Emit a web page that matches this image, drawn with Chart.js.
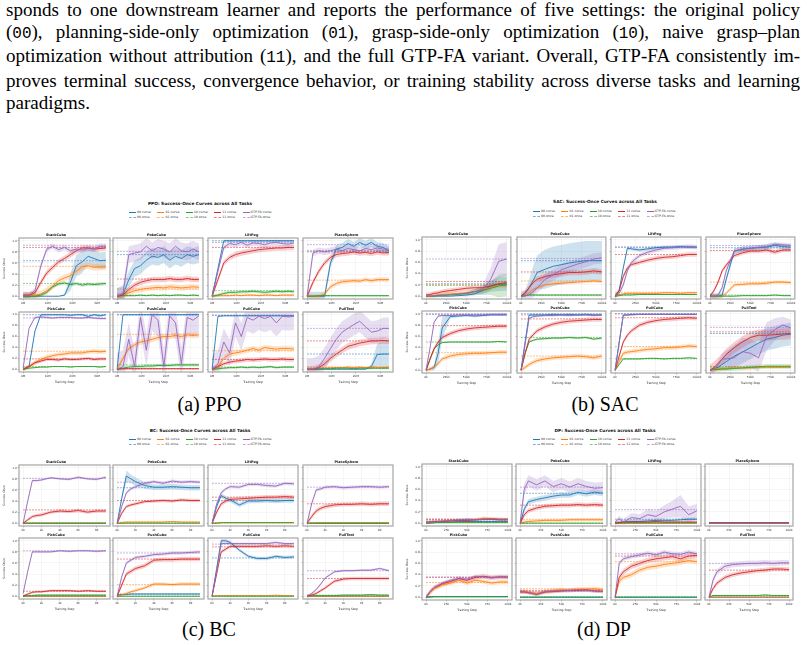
<!DOCTYPE html>
<html lang="en">
<head>
<meta charset="UTF-8" />
<title>Success-Once Curves across All Tasks</title>
<script src="https://cdn.jsdelivr.net/npm/chart.js"></script>
<style>
  html, body { margin: 0; padding: 0; background: #fff; }
  body { width: 807px; height: 645px; position: relative; overflow: hidden; font-family: "Liberation Serif", "Times New Roman", serif; color: #000; }
  .para { position: absolute; left: 6px; top: -1px; width: 794px; font-family: "Liberation Serif", serif; font-size: 19px; line-height: 22.2px; }
  .ln { text-align: justify; text-align-last: justify; }
  .ln.last { text-align: left; text-align-last: left; }
  code { font-family: "Liberation Mono", "DejaVu Sans Mono", monospace; font-size: 16px; }
  .caption { position: absolute; font-family: "Liberation Serif", serif; font-size: 20px; line-height: 22px; transform: translateX(-50%); white-space: nowrap; }
  .suptitle { position: absolute; font-family: "DejaVu Sans", sans-serif; font-weight: bold; font-size: 4.3px; line-height: 1; transform: translate(-50%, -50%); white-space: nowrap; color: #111; }
  .leg { position: absolute; font-family: "DejaVu Sans", sans-serif; font-size: 3.2px; line-height: 4px; white-space: nowrap; color: #333; }
  .leg i { display: inline-block; width: 7px; height: 0; vertical-align: middle; margin-right: 1px; }
  canvas { position: absolute; }
</style>
</head>
<body>
  <div class="para">
    <div class="ln">sponds to one downstream learner and reports the performance of five settings: the original policy</div>
    <div class="ln">(<code>00</code>), planning-side-only optimization (<code>01</code>), grasp-side-only optimization (<code>10</code>), naive grasp–plan</div>
    <div class="ln">optimization without attribution (<code>11</code>), and the full GTP-FA variant. Overall, GTP-FA consistently im-</div>
    <div class="ln">proves terminal success, convergence behavior, or training stability across diverse tasks and learning</div>
    <div class="ln last">paradigms.</div>
  </div>

  <div class="caption" style="left:209.5px; top:393px;">(a) PPO</div>
  <div class="caption" style="left:605px; top:393px;">(b) SAC</div>
  <div class="caption" style="left:209px; top:618px;">(c) BC</div>
  <div class="caption" style="left:604px; top:618px;">(d) DP</div>

<script>
// settings in plot order: 00, 01, 10, 11, GTP-FA
const SETTINGS = ["00", "01", "10", "11", "GTP-FA"];
const TASKS = ["StackCube", "PokeCube", "LiftPeg", "PlaceSphere", "PickCube", "PushCube", "PullCube", "PullTool"];
const Y_TICKS = [0, 0.2, 0.4, 0.6, 0.8, 1.0];

// ---------------- PPO (steps in M) ----------------
const PPO_STEPS = [0, 2.4, 4.8, 7.2, 9.6, 12, 14.4, 16.8, 19.2, 21.6, 24, 26.4, 28.8, 31.2, 33.6];
const PPO_XTICKS = [0, 10, 20, 30];
const PPO_XLABELS = ["0M", "10M", "20M", "30M"];

const ppoStackCube = [
  [0, 0, 0, 0, 0, 0, 0, 0.02, 0.25, 0.55, 0.62, 0.72, 0.68, 0.64, 0.65],
  [0.02, 0.02, 0.02, 0.04, 0.1, 0.18, 0.28, 0.33, 0.37, 0.45, 0.53, 0.55, 0.52, 0.53, 0.53],
  [0, 0, 0, 0.02, 0.07, 0.17, 0.22, 0.24, 0.21, 0.23, 0.2, 0.22, 0.21, 0.22, 0.23],
  [0.02, 0.02, 0.06, 0.25, 0.42, 0.52, 0.62, 0.68, 0.75, 0.82, 0.87, 0.87, 0.85, 0.86, 0.87],
  [0.02, 0.02, 0.1, 0.55, 0.85, 0.9, 0.84, 0.88, 0.82, 0.85, 0.83, 0.87, 0.85, 0.9, 0.9]
];
const ppoStackCubeOnce = [0.64, 0.54, 0.23, 0.88, 0.92];
const ppoStackCubeBand = [[0, 0, 0, 0, 0, 0, 0, 0.02, 0.15, 0.2, 0.2, 0.15, 0.15, 0.15, 0.15], 0.06, 0.03, 0.05, 0.05];

const ppoPokeCube = [
  [0, 0.02, 0.3, 0.5, 0.55, 0.65, 0.72, 0.7, 0.75, 0.65, 0.72, 0.68, 0.75, 0.72, 0.75],
  [0, 0.02, 0.06, 0.1, 0.12, 0.14, 0.15, 0.16, 0.15, 0.17, 0.16, 0.15, 0.16, 0.17, 0.16],
  [0, 0.01, 0.01, 0.01, 0.02, 0.01, 0.02, 0.01, 0.02, 0.01, 0.02, 0.02, 0.01, 0.02, 0.01],
  [0, 0.02, 0.12, 0.2, 0.25, 0.28, 0.3, 0.3, 0.3, 0.32, 0.3, 0.3, 0.32, 0.3, 0.3],
  [0, 0.05, 0.75, 0.78, 0.8, 0.9, 0.82, 0.88, 0.85, 0.8, 0.9, 0.82, 0.8, 0.85, 0.8]
];
const ppoPokeCubeOnce = [0.75, 0.13, 0.02, 0.31, 0.81];
const ppoPokeCubeBand = [0.15, 0.05, 0.01, 0.05, 0.15];

const ppoLiftPeg = [
  [0, 0.5, 1.0, 1.0, 1.0, 1.0, 1.0, 1.0, 1.0, 1.0, 1.0, 1.0, 1.0, 1.0, 1.0],
  [0, 0.01, 0.01, 0.01, 0.02, 0.01, 0.02, 0.02, 0.01, 0.02, 0.02, 0.01, 0.02, 0.02, 0.02],
  [0, 0.02, 0.05, 0.07, 0.07, 0.08, 0.08, 0.09, 0.08, 0.07, 0.08, 0.09, 0.08, 0.09, 0.08],
  [0, 0.3, 0.6, 0.7, 0.75, 0.78, 0.8, 0.82, 0.84, 0.85, 0.86, 0.87, 0.87, 0.88, 0.88],
  [0, 0.45, 0.88, 0.95, 0.93, 0.97, 0.92, 0.96, 0.95, 0.93, 0.96, 0.97, 0.95, 0.94, 0.96]
];
const ppoLiftPegOnce = [1.0, 0.02, 0.1, 0.88, 0.97];
const ppoLiftPegBand = [0.02, 0.01, 0.03, 0.05, 0.05];

const ppoPlaceSphere = [
  [0, 0, 0, 0, 0.6, 0.85, 0.88, 0.95, 0.9, 0.97, 0.92, 0.97, 0.9, 0.88, 0.82],
  [0, 0, 0, 0.04, 0.17, 0.23, 0.26, 0.27, 0.28, 0.27, 0.3, 0.28, 0.3, 0.3, 0.3],
  [0, 0, 0.01, 0.01, 0.01, 0.01, 0.01, 0.01, 0.01, 0.01, 0.01, 0.01, 0.01, 0.01, 0.01],
  [0, 0.25, 0.45, 0.6, 0.7, 0.75, 0.77, 0.78, 0.8, 0.78, 0.79, 0.77, 0.8, 0.78, 0.79],
  [0, 0.78, 0.82, 0.8, 0.82, 0.85, 0.82, 0.86, 0.84, 0.82, 0.86, 0.84, 0.87, 0.85, 0.85]
];
const ppoPlaceSphereOnce = [0.82, 0.29, 0.01, 0.8, 0.93];
const ppoPlaceSphereBand = [0.08, 0.04, 0.01, 0.05, 0.06];

const ppoPickCube = [
  [0, 0.05, 0.7, 1.0, 1.0, 1.0, 1.0, 1.0, 0.99, 1.0, 1.0, 0.97, 1.0, 0.98, 1.0],
  [0, 0.05, 0.12, 0.18, 0.22, 0.25, 0.27, 0.28, 0.3, 0.3, 0.3, 0.32, 0.33, 0.32, 0.33],
  [0, 0.02, 0.03, 0.04, 0.04, 0.05, 0.05, 0.05, 0.04, 0.05, 0.05, 0.05, 0.05, 0.04, 0.05],
  [0, 0.05, 0.12, 0.15, 0.18, 0.18, 0.17, 0.19, 0.18, 0.18, 0.19, 0.2, 0.18, 0.19, 0.19],
  [0.02, 0.75, 0.95, 0.96, 0.95, 0.94, 0.95, 0.95, 0.95, 0.94, 0.94, 0.95, 0.94, 0.93, 0.93]
];
const ppoPickCubeOnce = [1.0, 0.33, 0.05, 0.19, 0.94];
const ppoPickCubeBand = [0.02, 0.04, 0.01, 0.03, 0.02];

const ppoPushCube = [
  [0, 1.0, 1.0, 1.0, 1.0, 1.0, 1.0, 1.0, 1.0, 1.0, 1.0, 1.0, 1.0, 1.0, 1.0],
  [0, 0.2, 0.38, 0.45, 0.5, 0.52, 0.55, 0.58, 0.6, 0.6, 0.62, 0.6, 0.63, 0.62, 0.63],
  [0, 0.02, 0.04, 0.05, 0.05, 0.06, 0.06, 0.07, 0.07, 0.07, 0.08, 0.08, 0.08, 0.08, 0.08],
  [0, 0.01, 0.01, 0.01, 0.01, 0.01, 0.01, 0.01, 0.01, 0.01, 0.01, 0.01, 0.01, 0.01, 0.01],
  [0, 0.05, 0.55, 0.05, 0.95, 0.35, 1.0, 0.9, 0.05, 0.98, 0.85, 0.1, 0.95, 0.9, 0.98]
];
const ppoPushCubeOnce = [1.0, 0.64, 0.08, 0.01, 1.0];
const ppoPushCubeBand = [0.01, 0.05, 0.03, 0.01, 0.3];

const ppoPullCube = [
  [0, 0.97, 0.98, 0.98, 0.98, 0.98, 0.98, 0.98, 0.98, 0.98, 0.98, 0.98, 0.98, 0.98, 0.98],
  [0, 0.05, 0.2, 0.28, 0.3, 0.32, 0.35, 0.38, 0.35, 0.4, 0.38, 0.37, 0.38, 0.38, 0.37],
  [0, 0.01, 0.02, 0.03, 0.03, 0.04, 0.03, 0.04, 0.03, 0.04, 0.05, 0.03, 0.04, 0.04, 0.04],
  [0, 0.05, 0.1, 0.13, 0.15, 0.16, 0.18, 0.17, 0.18, 0.19, 0.18, 0.18, 0.19, 0.18, 0.18],
  [0, 0.1, 0.5, 0.3, 0.85, 0.6, 0.95, 0.9, 0.97, 0.93, 0.97, 0.85, 0.97, 0.96, 0.97]
];
const ppoPullCubeOnce = [0.99, 0.34, 0.04, 0.18, 0.99];
const ppoPullCubeBand = [0.01, 0.05, 0.02, 0.04, 0.25];

const ppoPullTool = [
  [0, 0, 0, 0, 0, 0, 0, 0, 0, 0, 0, 0.05, 0.27, 0.28, 0.28],
  [0, 0.01, 0.02, 0.02, 0.03, 0.03, 0.03, 0.04, 0.03, 0.04, 0.03, 0.04, 0.04, 0.03, 0.04],
  [0, 0, 0.01, 0.01, 0.01, 0.02, 0.02, 0.02, 0.01, 0.02, 0.02, 0.02, 0.02, 0.02, 0.02],
  [0, 0, 0.03, 0.1, 0.2, 0.28, 0.35, 0.42, 0.45, 0.48, 0.5, 0.52, 0.52, 0.53, 0.52],
  [0, 0, 0.05, 0.2, 0.38, 0.55, 0.68, 0.75, 0.82, 0.88, 0.78, 0.68, 0.7, 0.75, 0.75]
];
const ppoPullToolOnce = [0.28, 0.04, 0.02, 0.52, 0.75];
const ppoPullToolBand = [[0, 0, 0, 0, 0, 0, 0, 0, 0, 0, 0, 0.05, 0.2, 0.25, 0.25], 0.02, 0.01, 0.06, 0.2];

// ---------------- SAC (steps in k) ----------------
const SAC_STEPS = [0, 50, 100, 150, 200, 300, 400, 500, 600, 700, 800, 900, 1000];
const SAC_XTICKS = [0, 250, 500, 750, 1000];
const SAC_XLABELS = ["0k", "250k", "500k", "750k", "1000k"];

const sacStackCube = [
  [0, 0, 0, 0, 0, 0, 0.01, 0.02, 0.04, 0.1, 0.18, 0.21, 0.22],
  [0, 0, 0.01, 0.02, 0.03, 0.04, 0.05, 0.06, 0.08, 0.12, 0.15, 0.19, 0.18],
  [0, 0, 0, 0.01, 0.01, 0.02, 0.03, 0.05, 0.08, 0.1, 0.14, 0.18, 0.2],
  [0.02, 0.03, 0.05, 0.06, 0.08, 0.1, 0.12, 0.14, 0.15, 0.15, 0.18, 0.22, 0.24],
  [0, 0, 0.01, 0.02, 0.02, 0.03, 0.04, 0.05, 0.08, 0.12, 0.3, 0.62, 0.66]
];
const sacStackCubeOnce = [0.22, 0.19, 0.2, 0.26, 0.66];
const sacStackCubeBand = [
  [0, 0, 0, 0, 0, 0, 0.01, 0.02, 0.03, 0.06, 0.1, 0.12, 0.12], 0.04,
  [0, 0, 0, 0, 0.01, 0.01, 0.02, 0.03, 0.05, 0.08, 0.12, 0.2, 0.2], 0.04,
  [0, 0, 0, 0, 0, 0, 0, 0.02, 0.04, 0.08, 0.2, 0.3, 0.3]
];

const sacPokeCube = [
  [0, 0.05, 0.15, 0.28, 0.42, 0.48, 0.53, 0.56, 0.59, 0.61, 0.63, 0.63, 0.63],
  [0, 0.02, 0.06, 0.12, 0.15, 0.2, 0.22, 0.23, 0.24, 0.25, 0.26, 0.27, 0.26],
  [0, 0.01, 0.02, 0.02, 0.02, 0.02, 0.02, 0.02, 0.02, 0.02, 0.02, 0.02, 0.02],
  [0, 0.06, 0.15, 0.24, 0.3, 0.35, 0.38, 0.4, 0.42, 0.42, 0.43, 0.45, 0.43],
  [0, 0, 0.03, 0.08, 0.15, 0.3, 0.38, 0.47, 0.52, 0.57, 0.61, 0.66, 0.68]
];
const sacPokeCubeOnce = [0.63, 0.27, 0.02, 0.43, 0.67];
const sacPokeCubeBand = [[0, 0.05, 0.15, 0.25, 0.3, 0.35, 0.35, 0.35, 0.35, 0.35, 0.35, 0.35, 0.35], 0.03, 0.01, 0.05, 0.1];

const sacLiftPeg = [
  [0, 0.1, 0.5, 0.85, 0.84, 0.82, 0.84, 0.86, 0.87, 0.87, 0.88, 0.87, 0.87],
  [0, 0.02, 0.04, 0.05, 0.05, 0.05, 0.05, 0.05, 0.06, 0.06, 0.05, 0.06, 0.06],
  [0, 0.01, 0.02, 0.02, 0.02, 0.03, 0.03, 0.03, 0.03, 0.03, 0.03, 0.03, 0.03],
  [0, 0.1, 0.35, 0.5, 0.56, 0.6, 0.64, 0.67, 0.69, 0.7, 0.72, 0.74, 0.74],
  [0, 0.05, 0.2, 0.45, 0.6, 0.72, 0.78, 0.82, 0.85, 0.86, 0.87, 0.88, 0.87]
];
const sacLiftPegOnce = [0.87, 0.07, 0.03, 0.74, 0.87];
const sacLiftPegBand = [0.03, 0.02, 0.01, 0.04, 0.04];

const sacPlaceSphere = [
  [0, 0, 0, 0.02, 0.3, 0.8, 0.83, 0.85, 0.86, 0.87, 0.9, 0.88, 0.87],
  [0, 0, 0, 0, 0.05, 0.2, 0.21, 0.22, 0.22, 0.23, 0.25, 0.25, 0.24],
  [0, 0, 0, 0, 0, 0, 0.01, 0.01, 0.01, 0.01, 0.02, 0.01, 0.01],
  [0, 0.1, 0.25, 0.45, 0.55, 0.72, 0.77, 0.8, 0.8, 0.82, 0.78, 0.82, 0.82],
  [0, 0, 0.02, 0.15, 0.45, 0.8, 0.84, 0.85, 0.87, 0.88, 0.92, 0.91, 0.9]
];
const sacPlaceSphereOnce = [0.86, 0.25, 0.02, 0.81, 0.9];
const sacPlaceSphereBand = [0.05, 0.03, 0.01, 0.04, 0.04];

const sacPickCube = [
  [0, 0.02, 0.05, 0.3, 0.75, 0.95, 0.96, 0.97, 0.96, 0.97, 0.98, 0.98, 0.98],
  [0, 0.02, 0.05, 0.12, 0.2, 0.25, 0.28, 0.29, 0.3, 0.3, 0.31, 0.32, 0.32],
  [0, 0.2, 0.38, 0.45, 0.49, 0.5, 0.5, 0.5, 0.5, 0.5, 0.5, 0.51, 0.5],
  [0, 0.2, 0.38, 0.5, 0.58, 0.65, 0.7, 0.73, 0.75, 0.76, 0.77, 0.78, 0.78],
  [0, 0.4, 0.85, 0.96, 0.97, 0.97, 0.98, 0.98, 0.98, 0.98, 0.99, 0.99, 0.99]
];
const sacPickCubeOnce = [0.99, 0.31, 0.5, 0.79, 1.0];
const sacPickCubeBand = [[0, 0.02, 0.05, 0.2, 0.2, 0.03, 0.02, 0.02, 0.02, 0.02, 0.02, 0.02, 0.02], 0.04, 0.01, 0.04, 0.02];

const sacPushCube = [
  [0, 0.5, 0.98, 0.98, 0.98, 0.98, 0.99, 0.98, 0.99, 0.98, 0.99, 0.98, 0.98],
  [0, 0.05, 0.1, 0.14, 0.17, 0.2, 0.22, 0.23, 0.24, 0.25, 0.24, 0.22, 0.25],
  [0, 0.3, 0.5, 0.53, 0.55, 0.56, 0.57, 0.57, 0.58, 0.57, 0.58, 0.55, 0.57],
  [0, 0.3, 0.55, 0.63, 0.7, 0.77, 0.82, 0.85, 0.87, 0.88, 0.89, 0.9, 0.9],
  [0, 0.45, 0.92, 0.95, 0.96, 0.97, 0.97, 0.98, 0.97, 0.98, 0.98, 0.97, 0.98]
];
const sacPushCubeOnce = [1.0, 0.25, 0.58, 0.91, 0.98];
const sacPushCubeBand = [0.02, 0.04, 0.02, 0.04, 0.02];

const sacPullCube = [
  [0, 0.5, 0.98, 0.98, 0.99, 0.99, 0.99, 0.99, 0.99, 0.99, 0.99, 0.99, 0.99],
  [0, 0.15, 0.3, 0.32, 0.33, 0.35, 0.37, 0.38, 0.4, 0.4, 0.41, 0.43, 0.42],
  [0, 0.1, 0.2, 0.2, 0.2, 0.2, 0.21, 0.21, 0.2, 0.21, 0.21, 0.22, 0.21],
  [0, 0.25, 0.5, 0.62, 0.7, 0.8, 0.85, 0.88, 0.9, 0.91, 0.92, 0.93, 0.92],
  [0, 0.48, 0.97, 0.98, 0.98, 0.99, 0.99, 0.99, 0.99, 0.99, 0.99, 0.99, 0.99]
];
const sacPullCubeOnce = [1.0, 0.42, 0.2, 0.93, 1.0];
const sacPullCubeBand = [0.01, 0.04, 0.01, 0.04, 0.01];

const sacPullTool = [
  [0, 0.02, 0.05, 0.1, 0.15, 0.25, 0.32, 0.4, 0.48, 0.55, 0.58, 0.62, 0.64],
  [0, 0.02, 0.03, 0.03, 0.03, 0.04, 0.04, 0.04, 0.05, 0.05, 0.05, 0.05, 0.05],
  [0, 0.01, 0.01, 0.02, 0.02, 0.03, 0.04, 0.05, 0.06, 0.07, 0.07, 0.07, 0.07],
  [0, 0.05, 0.12, 0.2, 0.28, 0.4, 0.5, 0.58, 0.62, 0.62, 0.63, 0.64, 0.65],
  [0, 0.02, 0.1, 0.2, 0.2, 0.22, 0.33, 0.3, 0.22, 0.6, 0.72, 0.8, 0.75]
];
const sacPullToolOnce = [0.65, 0.06, 0.06, 0.68, 0.76];
const sacPullToolBand = [
  [0, 0.02, 0.05, 0.1, 0.15, 0.2, 0.2, 0.2, 0.2, 0.2, 0.2, 0.2, 0.2], 0.02, 0.04, 0.1,
  [0, 0.02, 0.05, 0.1, 0.15, 0.2, 0.25, 0.25, 0.25, 0.25, 0.2, 0.15, 0.15]
];

// ---------------- BC (steps in k) ----------------
const BC_STEPS = [0, 0.5, 1, 1.5, 2, 3, 4, 5, 6, 7, 8, 9];
const BC_XTICKS = [0, 2, 4, 6, 8];
const BC_XLABELS = ["0k", "2k", "4k", "6k", "8k"];

const bcStackCube = [
  [0, 0, 0, 0, 0, 0, 0, 0, 0, 0, 0, 0],
  [0, 0, 0, 0, 0, 0, 0, 0, 0, 0, 0, 0],
  [0, 0, 0, 0, 0, 0, 0, 0, 0, 0, 0, 0],
  [0, 0.06, 0.12, 0.14, 0.15, 0.2, 0.22, 0.21, 0.23, 0.2, 0.22, 0.22],
  [0, 0.4, 0.77, 0.77, 0.78, 0.82, 0.8, 0.79, 0.83, 0.8, 0.79, 0.83]
];
const bcStackCubeOnce = [0, 0, 0, 0.24, 0.81];
const bcStackCubeBand = [0, 0, 0, 0.03, 0.02];

const bcPokeCube = [
  [0, 0.45, 0.85, 0.8, 0.75, 0.68, 0.65, 0.65, 0.66, 0.65, 0.64, 0.64],
  [0, 0.01, 0.02, 0.02, 0.02, 0.02, 0.02, 0.02, 0.03, 0.02, 0.02, 0.02],
  [0, 0, 0, 0, 0, 0, 0, 0, 0, 0, 0, 0],
  [0, 0.18, 0.3, 0.33, 0.35, 0.39, 0.4, 0.41, 0.4, 0.42, 0.41, 0.41],
  [0, 0.3, 0.55, 0.62, 0.66, 0.72, 0.75, 0.72, 0.76, 0.74, 0.75, 0.74]
];
const bcPokeCubeOnce = [0.64, 0.02, 0, 0.41, 0.74];
const bcPokeCubeBand = [[0, 0.05, 0.1, 0.08, 0.08, 0.06, 0.05, 0.05, 0.05, 0.05, 0.05, 0.05], 0.01, 0, 0.03, 0.03];

const bcLiftPeg = [
  [0, 0.3, 0.5, 0.45, 0.42, 0.33, 0.4, 0.4, 0.41, 0.4, 0.41, 0.41],
  [0, 0, 0.01, 0.01, 0.01, 0.01, 0.01, 0.01, 0.01, 0.01, 0.01, 0.01],
  [0, 0, 0.01, 0.01, 0.01, 0.01, 0.01, 0.01, 0.01, 0.01, 0.01, 0.01],
  [0, 0.2, 0.35, 0.4, 0.43, 0.44, 0.45, 0.46, 0.47, 0.47, 0.48, 0.47],
  [0, 0.35, 0.55, 0.62, 0.66, 0.65, 0.7, 0.7, 0.68, 0.67, 0.72, 0.71]
];
const bcLiftPegOnce = [0.41, 0.01, 0.01, 0.47, 0.72];
const bcLiftPegBand = [0.04, 0, 0, 0.04, 0.03];

const bcPlaceSphere = [
  [0, 0, 0, 0, 0, 0, 0, 0, 0, 0, 0, 0],
  [0, 0, 0.01, 0.01, 0.01, 0.01, 0.01, 0.01, 0.01, 0.01, 0.01, 0.01],
  [0, 0, 0, 0, 0, 0, 0, 0, 0, 0, 0, 0],
  [0, 0.12, 0.22, 0.27, 0.3, 0.33, 0.34, 0.34, 0.35, 0.34, 0.35, 0.35],
  [0, 0.35, 0.6, 0.62, 0.65, 0.66, 0.64, 0.65, 0.66, 0.66, 0.65, 0.66]
];
const bcPlaceSphereOnce = [0, 0.01, 0, 0.35, 0.65];
const bcPlaceSphereBand = [0, 0, 0, 0.04, 0.03];

const bcPickCube = [
  [0, 0, 0, 0, 0, 0, 0, 0, 0, 0, 0, 0],
  [0, 0, 0, 0, 0, 0, 0, 0, 0, 0, 0, 0],
  [0, 0.01, 0.01, 0.02, 0.02, 0.02, 0.02, 0.02, 0.02, 0.02, 0.02, 0.02],
  [0, 0.04, 0.07, 0.08, 0.08, 0.1, 0.1, 0.1, 0.09, 0.1, 0.09, 0.09],
  [0.05, 0.45, 0.8, 0.8, 0.8, 0.8, 0.82, 0.81, 0.82, 0.82, 0.81, 0.82]
];
const bcPickCubeOnce = [0, 0, 0.02, 0.09, 0.82];
const bcPickCubeBand = [0, 0, 0.01, 0.02, 0.02];

const bcPushCube = [
  [0.02, 0.03, 0.03, 0.04, 0.04, 0.04, 0.04, 0.04, 0.04, 0.04, 0.04, 0.04],
  [0, 0.02, 0.05, 0.08, 0.1, 0.15, 0.22, 0.22, 0.21, 0.22, 0.22, 0.22],
  [0, 0, 0, 0, 0, 0, 0, 0, 0, 0, 0, 0],
  [0, 0.2, 0.4, 0.45, 0.5, 0.55, 0.65, 0.66, 0.66, 0.67, 0.67, 0.67],
  [0, 0.35, 0.6, 0.65, 0.7, 0.72, 0.75, 0.76, 0.78, 0.78, 0.79, 0.8]
];
const bcPushCubeOnce = [0.04, 0.21, 0, 0.67, 0.78];
const bcPushCubeBand = [0.01, 0.03, 0, 0.04, 0.03];

const bcPullCube = [
  [0, 0.5, 1.0, 1.0, 0.97, 0.83, 0.72, 0.68, 0.68, 0.72, 0.7, 0.71],
  [0, 0.01, 0.01, 0.01, 0.01, 0.01, 0.01, 0.01, 0.01, 0.02, 0.01, 0.01],
  [0, 0, 0, 0, 0, 0, 0, 0, 0, 0, 0, 0],
  [0, 0.4, 0.8, 0.85, 0.9, 0.9, 0.9, 0.9, 0.91, 0.9, 0.91, 0.9],
  [0, 0.45, 0.95, 0.95, 0.95, 0.95, 0.95, 0.95, 0.95, 0.97, 0.95, 0.95]
];
const bcPullCubeOnce = [0.69, 0.01, 0, 0.89, 0.94];
const bcPullCubeBand = [0.03, 0, 0, 0.03, 0.02];

const bcPullTool = [
  [0, 0, 0, 0, 0, 0, 0, 0, 0, 0, 0, 0],
  [0, 0, 0, 0, 0, 0, 0, 0, 0, 0, 0, 0],
  [0, 0.01, 0.01, 0.01, 0.01, 0.01, 0.02, 0.02, 0.02, 0.03, 0.02, 0.02],
  [0, 0.02, 0.05, 0.1, 0.15, 0.27, 0.31, 0.32, 0.32, 0.32, 0.32, 0.32],
  [0, 0.05, 0.12, 0.22, 0.33, 0.44, 0.46, 0.46, 0.47, 0.47, 0.5, 0.46]
];
const bcPullToolOnce = [0, 0, 0.02, 0.32, 0.46];
const bcPullToolBand = [0, 0, 0.01, 0.03, 0.02];

// ---------------- DP (steps in k) ----------------
const DP_STEPS = [0, 5, 10, 20, 30, 40, 50, 60, 70, 80, 90, 100];
const DP_XTICKS = [0, 25, 50, 75, 100];
const DP_XLABELS = ["0k", "25k", "50k", "75k", "100k"];

const dpStackCube = [
  [0, 0.01, 0.01, 0.02, 0.02, 0.03, 0.03, 0.03, 0.03, 0.03, 0.03, 0.03],
  [0.01, 0.02, 0.02, 0.03, 0.04, 0.05, 0.05, 0.06, 0.09, 0.08, 0.07, 0.07],
  [0, 0, 0.01, 0.01, 0.01, 0.01, 0.01, 0.01, 0.01, 0.01, 0.01, 0.01],
  [0.02, 0.02, 0.03, 0.03, 0.04, 0.05, 0.05, 0.06, 0.07, 0.07, 0.06, 0.06],
  [0.01, 0.02, 0.02, 0.04, 0.05, 0.06, 0.07, 0.06, 0.07, 0.08, 0.07, 0.07]
];
const dpStackCubeOnce = [0.04, 0.07, 0.01, 0.07, 0.07];
const dpStackCubeBand = [0.01, 0.03, 0.01, 0.02, 0.02];

const dpPokeCube = [
  [0, 0.25, 0.38, 0.42, 0.45, 0.48, 0.5, 0.5, 0.55, 0.52, 0.55, 0.53],
  [0, 0.02, 0.03, 0.04, 0.05, 0.05, 0.05, 0.06, 0.06, 0.06, 0.06, 0.06],
  [0, 0, 0, 0, 0, 0, 0, 0, 0, 0, 0, 0],
  [0, 0.15, 0.22, 0.27, 0.3, 0.31, 0.32, 0.32, 0.33, 0.32, 0.33, 0.32],
  [0, 0.6, 0.75, 0.68, 0.75, 0.65, 0.7, 0.64, 0.7, 0.65, 0.62, 0.63]
];
const dpPokeCubeOnce = [0.53, 0.07, 0, 0.32, 0.64];
const dpPokeCubeBand = [0.05, 0.03, 0, 0.04, 0.1];

const dpLiftPeg = [
  [0, 0.01, 0.02, 0.03, 0.03, 0.04, 0.05, 0.05, 0.05, 0.06, 0.07, 0.07],
  [0, 0, 0.01, 0.01, 0.01, 0.01, 0.01, 0.01, 0.01, 0.01, 0.01, 0.01],
  [0, 0, 0, 0, 0, 0, 0, 0, 0, 0, 0, 0],
  [0, 0.01, 0.02, 0.02, 0.02, 0.02, 0.03, 0.02, 0.02, 0.02, 0.02, 0.02],
  [0.02, 0.08, 0.02, 0.1, 0.08, 0.15, 0.12, 0.2, 0.25, 0.3, 0.15, 0.22]
];
const dpLiftPegOnce = [0.07, 0.01, 0, 0.02, 0.24];
const dpLiftPegBand = [0.03, 0.01, 0, 0.01, [0.02, 0.05, 0.05, 0.08, 0.08, 0.1, 0.1, 0.12, 0.15, 0.2, 0.15, 0.12]];

const dpPlaceSphere = [
  [0, 0, 0, 0, 0, 0, 0, 0, 0, 0, 0, 0],
  [0.01, 0.01, 0.01, 0.01, 0.01, 0.01, 0.01, 0.01, 0.01, 0.01, 0.01, 0.01],
  [0, 0, 0, 0, 0, 0, 0, 0, 0, 0, 0, 0],
  [0.01, 0.01, 0.01, 0.01, 0.01, 0.01, 0.01, 0.01, 0.01, 0.01, 0.01, 0.01],
  [0, 0, 0, 0, 0, 0, 0, 0, 0, 0, 0, 0]
];
const dpPlaceSphereOnce = [0, 0.01, 0, 0.01, 0];
const dpPlaceSphereBand = [0, 0.01, 0, 0.01, 0];

const dpPickCube = [
  [0, 0.01, 0.01, 0.01, 0.01, 0.01, 0.01, 0.01, 0.01, 0.01, 0.01, 0.01],
  [0, 0.08, 0.15, 0.22, 0.25, 0.3, 0.25, 0.3, 0.28, 0.25, 0.27, 0.27],
  [0, 0, 0.01, 0.01, 0.01, 0.01, 0.01, 0.01, 0.01, 0.01, 0.01, 0.01],
  [0, 0.1, 0.17, 0.24, 0.28, 0.33, 0.3, 0.35, 0.37, 0.35, 0.36, 0.36],
  [0, 0.1, 0.17, 0.25, 0.3, 0.33, 0.32, 0.37, 0.36, 0.34, 0.36, 0.35]
];
const dpPickCubeOnce = [0.01, 0.26, 0.01, 0.35, 0.36];
const dpPickCubeBand = [0.01, 0.04, 0.01, 0.04, 0.03];

const dpPushCube = [
  [0, 0, 0, 0, 0, 0, 0, 0, 0, 0, 0, 0],
  [0.1, 0.1, 0.09, 0.07, 0.1, 0.12, 0.13, 0.12, 0.14, 0.14, 0.15, 0.13],
  [0, 0, 0, 0, 0, 0, 0, 0, 0, 0, 0, 0],
  [0.09, 0.09, 0.08, 0.05, 0.09, 0.1, 0.11, 0.12, 0.12, 0.13, 0.11, 0.1],
  [0.1, 0.1, 0.08, 0.05, 0.1, 0.11, 0.12, 0.12, 0.13, 0.12, 0.11, 0.1]
];
const dpPushCubeOnce = [0, 0.15, 0, 0.12, 0.1];
const dpPushCubeBand = [0, 0.04, 0, 0.03, 0.03];

const dpPullCube = [
  [0, 0, 0, 0, 0, 0, 0, 0, 0, 0, 0, 0],
  [0, 0.28, 0.35, 0.4, 0.48, 0.53, 0.55, 0.58, 0.6, 0.62, 0.65, 0.63],
  [0, 0, 0, 0, 0, 0, 0, 0, 0, 0, 0, 0],
  [0, 0.35, 0.45, 0.55, 0.6, 0.65, 0.68, 0.7, 0.72, 0.68, 0.73, 0.74],
  [0, 0.6, 0.68, 0.72, 0.75, 0.78, 0.75, 0.8, 0.77, 0.76, 0.8, 0.77]
];
const dpPullCubeOnce = [0, 0.63, 0, 0.73, 0.77];
const dpPullCubeBand = [0, 0.05, 0, 0.05, 0.04];

const dpPullTool = [
  [0, 0, 0, 0, 0, 0, 0, 0, 0, 0, 0, 0],
  [0, 0, 0, 0, 0, 0, 0, 0, 0, 0, 0, 0],
  [0, 0.03, 0.03, 0.03, 0.03, 0.03, 0.03, 0.03, 0.04, 0.03, 0.03, 0.03],
  [0, 0.15, 0.25, 0.35, 0.4, 0.43, 0.45, 0.47, 0.48, 0.5, 0.5, 0.49],
  [0, 0.3, 0.45, 0.55, 0.58, 0.59, 0.6, 0.6, 0.61, 0.6, 0.61, 0.61]
];
const dpPullToolOnce = [0, 0, 0.03, 0.48, 0.6];
const dpPullToolBand = [0, 0, 0.01, 0.04, 0.05];

// ---------------- styles & layout ----------------
const COLORS = ["#1f77b4", "#ff7f0e", "#2ca02c", "#d62728", "#9467bd"];
const FONT = "DejaVu Sans";

const LEARNERS = [
  {
    name: "PPO", steps: PPO_STEPS, xticks: PPO_XTICKS, xlabels: PPO_XLABELS, xmin: -1.68, xmax: 35.28,
    curves: [ppoStackCube, ppoPokeCube, ppoLiftPeg, ppoPlaceSphere, ppoPickCube, ppoPushCube, ppoPullCube, ppoPullTool],
    once: [ppoStackCubeOnce, ppoPokeCubeOnce, ppoLiftPegOnce, ppoPlaceSphereOnce, ppoPickCubeOnce, ppoPushCubeOnce, ppoPullCubeOnce, ppoPullToolOnce],
    band: [ppoStackCubeBand, ppoPokeCubeBand, ppoLiftPegBand, ppoPlaceSphereBand, ppoPickCubeBand, ppoPushCubeBand, ppoPullCubeBand, ppoPullToolBand],
    cols: [[19, 110], [113, 203], [208, 298], [303, 393]], rows: [[238, 299], [312, 372]],
    title: [200, 204], legend: [129, 212]
  },
  {
    name: "SAC", steps: SAC_STEPS, xticks: SAC_XTICKS, xlabels: SAC_XLABELS, xmin: -50, xmax: 1050,
    curves: [sacStackCube, sacPokeCube, sacLiftPeg, sacPlaceSphere, sacPickCube, sacPushCube, sacPullCube, sacPullTool],
    once: [sacStackCubeOnce, sacPokeCubeOnce, sacLiftPegOnce, sacPlaceSphereOnce, sacPickCubeOnce, sacPushCubeOnce, sacPullCubeOnce, sacPullToolOnce],
    band: [sacStackCubeBand, sacPokeCubeBand, sacLiftPegBand, sacPlaceSphereBand, sacPickCubeBand, sacPushCubeBand, sacPullCubeBand, sacPullToolBand],
    cols: [[422, 511], [517, 606], [611, 701], [706, 795]], rows: [[237, 299], [311, 373]],
    title: [605, 202], legend: [533, 211]
  },
  {
    name: "BC", steps: BC_STEPS, xticks: BC_XTICKS, xlabels: BC_XLABELS, xmin: -0.45, xmax: 9.45,
    curves: [bcStackCube, bcPokeCube, bcLiftPeg, bcPlaceSphere, bcPickCube, bcPushCube, bcPullCube, bcPullTool],
    once: [bcStackCubeOnce, bcPokeCubeOnce, bcLiftPegOnce, bcPlaceSphereOnce, bcPickCubeOnce, bcPushCubeOnce, bcPullCubeOnce, bcPullToolOnce],
    band: [bcStackCubeBand, bcPokeCubeBand, bcLiftPegBand, bcPlaceSphereBand, bcPickCubeBand, bcPushCubeBand, bcPullCubeBand, bcPullToolBand],
    cols: [[19, 110], [113, 204], [208, 298], [303, 393]], rows: [[465, 526], [538, 599]],
    title: [200, 431], legend: [129, 439]
  },
  {
    name: "DP", steps: DP_STEPS, xticks: DP_XTICKS, xlabels: DP_XLABELS, xmin: -5, xmax: 105,
    curves: [dpStackCube, dpPokeCube, dpLiftPeg, dpPlaceSphere, dpPickCube, dpPushCube, dpPullCube, dpPullTool],
    once: [dpStackCubeOnce, dpPokeCubeOnce, dpLiftPegOnce, dpPlaceSphereOnce, dpPickCubeOnce, dpPushCubeOnce, dpPullCubeOnce, dpPullToolOnce],
    band: [dpStackCubeBand, dpPokeCubeBand, dpLiftPegBand, dpPlaceSphereBand, dpPickCubeBand, dpPushCubeBand, dpPullCubeBand, dpPullToolBand],
    cols: [[422, 512], [516, 607], [611, 701], [705, 793]], rows: [[464, 526], [538, 600]],
    title: [605, 431], legend: [533, 439]
  }
];

// gray box around each axes, like matplotlib spines
const framePlugin = {
  id: "frame",
  afterDraw(chart) {
    const { ctx, chartArea: a } = chart;
    ctx.save();
    ctx.strokeStyle = "#a6a6a6";
    ctx.lineWidth = 1.2;
    ctx.strokeRect(a.left, a.top, a.right - a.left, a.bottom - a.top);
    ctx.restore();
  }
};

function addHeader(L) {
  const t = document.createElement("div");
  t.className = "suptitle";
  t.textContent = L.name + ": Success-Once Curves across All Tasks";
  t.style.left = L.title[0] + "px";
  t.style.top = L.title[1] + "px";
  document.body.appendChild(t);

  SETTINGS.forEach((s, k) => {
    ["curve", "once"].forEach((kind, r) => {
      const d = document.createElement("div");
      d.className = "leg";
      d.style.left = (L.legend[0] + k * 28.4) + "px";
      d.style.top = (L.legend[1] + r * 5 - 2) + "px";
      const sw = document.createElement("i");
      sw.style.borderTop = r ? "0.8px dashed " + COLORS[k] + "99" : "1px solid " + COLORS[k];
      d.appendChild(sw);
      d.appendChild(document.createTextNode(s + " " + kind));
      document.body.appendChild(d);
    });
  });
}

function addPanel(L, t) {
  const col = t % 4, row = Math.floor(t / 4);
  const [fl, fr] = L.cols[col];
  const [ft, fb] = L.rows[row];
  const yW = col === 0 ? 17 : 3;
  const T = 6;
  const xH = row === 0 ? 6 : 12;

  const cv = document.createElement("canvas");
  cv.width = fr - fl + yW + 1;
  cv.height = fb - ft + T + xH;
  cv.style.left = (fl - yW) + "px";
  cv.style.top = (ft - T) + "px";
  document.body.appendChild(cv);

  const steps = L.steps;
  const last = steps[steps.length - 1];
  const curves = L.curves[t], once = L.once[t], band = L.band[t];
  const ds = [];

  curves.forEach((vals, k) => {
    ds.push({
      data: vals.map((v, i) => ({ x: steps[i], y: v })),
      borderColor: COLORS[k], borderWidth: 0.9, pointRadius: 0, fill: false, order: 4 - k
    });
    ds.push({
      data: [{ x: 0, y: once[k] }, { x: last, y: once[k] }],
      borderColor: COLORS[k] + "b0", borderWidth: 0.8, borderDash: [1.8, 1.2],
      pointRadius: 0, fill: false, order: 10 + 4 - k
    });
  });
  curves.forEach((vals, k) => {
    const sd = i => (typeof band[k] === "number" ? band[k] : band[k][i]);
    if (typeof band[k] === "number" && band[k] === 0) return;
    ds.push({
      data: vals.map((v, i) => ({ x: steps[i], y: v + sd(i) })),
      borderColor: "rgba(0,0,0,0)", borderWidth: 0, pointRadius: 0,
      backgroundColor: COLORS[k] + "38", fill: "+1", order: 20 + 4 - k
    });
    ds.push({
      data: vals.map((v, i) => ({ x: steps[i], y: v - sd(i) })),
      borderColor: "rgba(0,0,0,0)", borderWidth: 0, pointRadius: 0, fill: false, order: 20 + 4 - k
    });
  });

  const tickFont = { family: FONT, size: 2.9 };
  const grid = { color: "rgba(0,0,0,0.07)", lineWidth: 0.5, tickLength: 1.5, tickColor: "#555", tickWidth: 0.4 };

  new Chart(cv, {
    type: "line",
    data: { datasets: ds },
    options: {
      responsive: false,
      animation: false,
      events: [],
      layout: { padding: { top: 0, right: 1, bottom: 0, left: 0 } },
      plugins: {
        legend: { display: false },
        tooltip: { enabled: false },
        title: {
          display: true, text: TASKS[t], color: "#111",
          font: { family: FONT, size: 3.4, weight: "bold", lineHeight: 1 },
          padding: { top: 1, bottom: 1.6 }
        }
      },
      scales: {
        x: {
          type: "linear", min: L.xmin, max: L.xmax,
          afterFit: s => { s.height = xH; },
          afterBuildTicks: s => { s.ticks = L.xticks.map(v => ({ value: v })); },
          ticks: { autoSkip: false, maxRotation: 0, padding: 0.6, font: tickFont, color: "#333",
                   callback: (v, i) => L.xlabels[i] },
          grid: grid,
          border: { display: false },
          title: { display: row === 1, text: "Training Step", color: "#333",
                   font: { family: FONT, size: 3 }, padding: { top: 0.8, bottom: 0 } }
        },
        y: {
          min: -0.05, max: 1.05,
          afterFit: s => { s.width = yW; },
          afterBuildTicks: s => { s.ticks = Y_TICKS.map(v => ({ value: v })); },
          ticks: { display: col === 0, padding: 0.6, font: tickFont, color: "#333",
                   callback: v => v.toFixed(1) },
          grid: grid,
          border: { display: false },
          title: { display: col === 0, text: "Success Once", color: "#333",
                   font: { family: FONT, size: 3 }, padding: { top: 0, bottom: 0.8 } }
        }
      }
    },
    plugins: [framePlugin]
  });
}

LEARNERS.forEach(L => {
  addHeader(L);
  TASKS.forEach((_, t) => addPanel(L, t));
});
</script>
</body>
</html>
